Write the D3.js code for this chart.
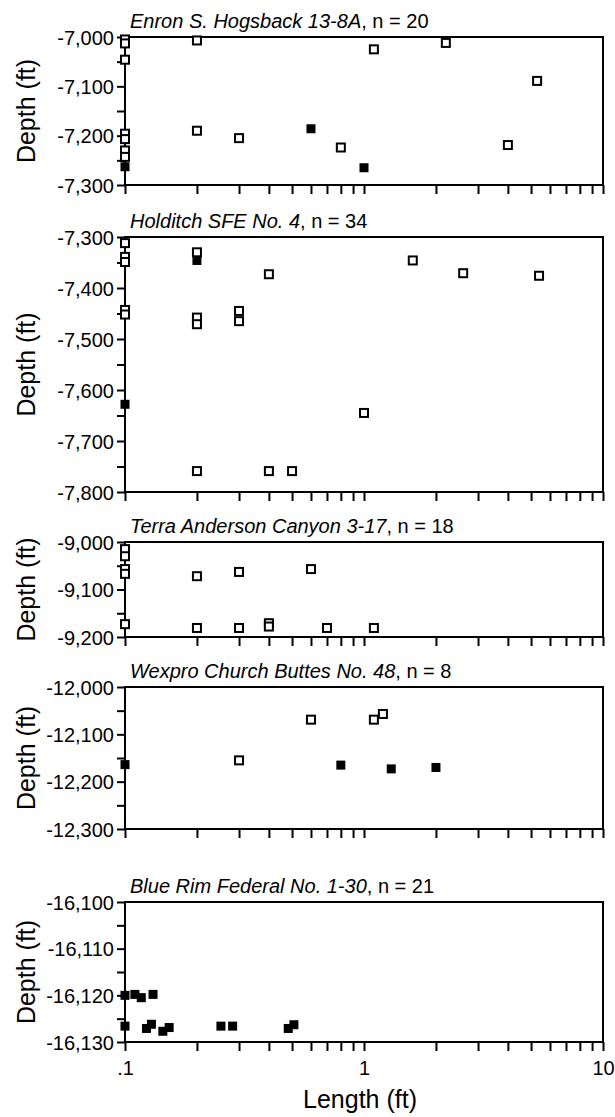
<!DOCTYPE html>
<html>
<head>
<meta charset="utf-8">
<script src="https://cdn.jsdelivr.net/npm/d3@7"></script>
<style>
  body { margin: 0; background: #fff; }
  svg { display: block; font-family: "Liberation Sans", Arial, Helvetica, sans-serif; }
</style>
</head>
<body>
<svg width="615" height="1117"></svg>
<script>
// ---- data ----
var wellNames = ["Enron S. Hogsback 13-8A", "Holditch SFE No. 4", "Terra Anderson Canyon 3-17",
                 "Wexpro Church Buttes No. 48", "Blue Rim Federal No. 1-30"];
var wellCounts = [20, 34, 18, 8, 21];
var depthDomains = [[-7300, -7000], [-7800, -7300], [-9200, -9000], [-12300, -12000], [-16130, -16100]];
var depthTickStep = [100, 100, 100, 100, 10];
var lengthTicks = [0.1, 1, 10];
var lengthTickLabels = [".1", "1", "10"];

// length (ft), depth (ft), solid marker (1) or open (0)
var enronLen   = [0.1, 0.1, 0.1, 0.1, 0.1, 0.1, 0.1, 0.1, 0.2, 0.2, 0.3, 0.6, 0.8, 1.0, 1.1, 2.2, 4.0, 5.3];
var enronDepth = [-7005, -7013, -7046, -7196, -7207, -7230, -7243, -7263, -7007, -7190, -7205, -7186, -7224, -7265, -7025, -7012, -7219, -7089];
var enronSolid = [0, 0, 0, 0, 0, 0, 0, 1, 0, 0, 0, 1, 0, 1, 0, 0, 0, 0];

var holdLen   = [0.1, 0.1, 0.1, 0.1, 0.1, 0.1, 0.2, 0.2, 0.2, 0.2, 0.2, 0.3, 0.3, 0.4, 0.4, 0.5, 1.0, 1.6, 2.6, 5.4];
var holdDepth = [-7312, -7339, -7349, -7443, -7452, -7628, -7330, -7346, -7458, -7471, -7759, -7445, -7465, -7373, -7759, -7759, -7645, -7346, -7371, -7376];
var holdSolid = [0, 0, 0, 0, 0, 1, 0, 1, 0, 0, 0, 0, 0, 0, 0, 0, 0, 0, 0, 0];

var terraLen   = [0.1, 0.1, 0.1, 0.1, 0.1, 0.2, 0.3, 0.6, 0.2, 0.3, 0.4, 0.4, 0.7, 1.1];
var terraDepth = [-9015, -9030, -9057, -9067, -9173, -9072, -9063, -9057, -9181, -9181, -9171, -9178, -9181, -9181];
var terraSolid = [0, 0, 0, 0, 0, 0, 0, 0, 0, 0, 0, 0, 0, 0];

var wexLen   = [0.6, 1.1, 1.2, 0.1, 0.3, 0.8, 1.3, 2.0];
var wexDepth = [-12069, -12069, -12057, -12164, -12155, -12165, -12173, -12170];
var wexSolid = [0, 0, 0, 1, 0, 1, 1, 1];

var blueLen   = [0.1, 0.11, 0.117, 0.131, 0.1, 0.123, 0.129, 0.144, 0.153, 0.252, 0.282, 0.482, 0.509];
var blueDepth = [-16120, -16119.8, -16120.5, -16119.8, -16126.6, -16127.1, -16126.2, -16127.7, -16126.9, -16126.6, -16126.6, -16127.1, -16126.3];
var blueSolid = [1, 1, 1, 1, 1, 1, 1, 1, 1, 1, 1, 1, 1];

var panelLen   = [enronLen, holdLen, terraLen, wexLen, blueLen];
var panelDepth = [enronDepth, holdDepth, terraDepth, wexDepth, blueDepth];
var panelSolid = [enronSolid, holdSolid, terraSolid, wexSolid, blueSolid];

function draw() {
    // ---- layout ----
    var left = 125, right = 603;
    var tops = [37, 237, 542, 687, 902],
        bottoms = [185, 492, 637, 829, 1042];

    var svg = d3.select("svg");
    var fmt = d3.formatLocale({decimal: ".", thousands: ",", grouping: [3], currency: ["$", ""], minus: "-"}).format(",");

    var x = d3.scaleLog().domain([0.1, 10]).range([left, right]);

    panelLen.forEach(function(lens, p) {
        var pTop = tops[p], pBot = bottoms[p];
        var dom = depthDomains[p], step = depthTickStep[p];
        var y = d3.scaleLinear().domain(dom).range([pBot, pTop]);
        var g = svg.append("g");

        var major = d3.range(dom[0], dom[1] + step / 2, step);
        var minor = d3.range(dom[0] + step / 2, dom[1], step);

        // y axis (left), ticks outward
        g.append("g")
            .attr("transform", "translate(" + left + ",0)")
            .call(d3.axisLeft(y).tickValues(major.concat(minor)).tickSize(8).tickSizeOuter(0)
                .tickFormat(function(d) { return major.indexOf(d) >= 0 ? fmt(d) : ""; }))
            .call(function(a) {
                a.select(".domain").remove();
                a.selectAll("line").attr("stroke", "#000").attr("stroke-width", 2);
                a.selectAll("text").attr("font-size", 20).attr("fill", "#000").attr("x", -11).attr("dy", "0.36em");
            });

        // x axis (bottom), ticks outward
        g.append("g")
            .attr("transform", "translate(0," + pBot + ")")
            .call(d3.axisBottom(x).tickSize(9).tickSizeOuter(0)
                .tickFormat(function(d) {
                    var i = lengthTicks.indexOf(d);
                    return (p === 4 && i >= 0) ? lengthTickLabels[i] : "";
                }))
            .call(function(a) {
                a.select(".domain").remove();
                a.selectAll("line").attr("stroke", "#000").attr("stroke-width", 2);
                a.selectAll("text").attr("font-size", 20).attr("fill", "#000").attr("y", 19);
            });

        // frame
        g.append("rect")
            .attr("x", left).attr("y", pTop)
            .attr("width", right - left).attr("height", pBot - pTop)
            .attr("fill", "none").attr("stroke", "#000").attr("stroke-width", 2);

        // title
        var t = g.append("text")
            .attr("x", left + 5).attr("y", pTop - 9)
            .attr("font-size", 20).attr("fill", "#000");
        t.append("tspan").attr("font-style", "italic").text(wellNames[p]);
        t.append("tspan").text(", n = " + wellCounts[p]);

        // y label
        g.append("text")
            .attr("transform", "translate(35," + ((pTop + pBot) / 2) + ") rotate(-90)")
            .attr("text-anchor", "middle")
            .attr("font-size", 25).attr("fill", "#000")
            .text("Depth (ft)");

        // points
        var pts = lens.map(function(v, i) {
            return {len: v, depth: panelDepth[p][i], solid: panelSolid[p][i]};
        });
        g.append("g").selectAll("rect")
            .data(pts)
            .enter().append("rect")
            .attr("x", function(d) { return x(d.len) - (d.solid ? 4.5 : 4); })
            .attr("y", function(d) { return y(d.depth) - (d.solid ? 4.5 : 4); })
            .attr("width", function(d) { return d.solid ? 9 : 8; })
            .attr("height", function(d) { return d.solid ? 9 : 8; })
            .attr("fill", function(d) { return d.solid ? "#000" : "#fff"; })
            .attr("stroke", "#000")
            .attr("stroke-width", function(d) { return d.solid ? 0 : 2; });
    });

    // x label
    svg.append("text")
        .attr("x", (left + right) / 2 - 4).attr("y", 1108)
        .attr("text-anchor", "middle")
        .attr("font-size", 25).attr("fill", "#000")
        .text("Length (ft)");
}
draw();
</script>
</body>
</html>
